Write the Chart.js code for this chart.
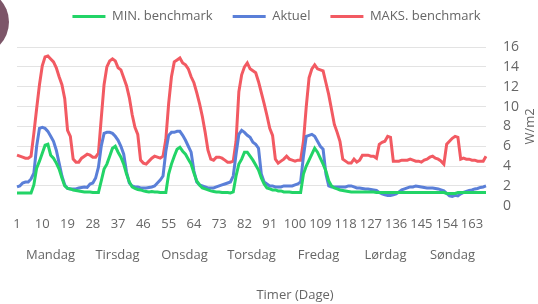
<!DOCTYPE html>
<html>
<head>
<meta charset="utf-8">
<script src="https://cdn.jsdelivr.net/npm/chart.js@4.4.1/dist/chart.umd.min.js"></script>
<style>
  html, body { margin: 0; padding: 0; background: #ffffff; overflow: hidden; }
  #wrap { position: relative; width: 538px; height: 304px; }
  #c { position: absolute; left: 0; top: 0; }
  #avatar { position: absolute; left: -57px; top: -11px; width: 66px; height: 66px; border-radius: 50%; background: #7c5568; }
</style>
</head>
<body>
<div id="wrap">
  <canvas id="c" width="538" height="304"></canvas>
  <div id="avatar"></div>
</div>
<script>
// ---- data ----
const hourLabels = [];
for (let h = 1; h <= 168; h++) hourLabels.push(String(h));
const dayLabels = ['Mandag', 'Tirsdag', 'Onsdag', 'Torsdag', 'Fredag', 'Lørdag', 'Søndag'];
const seriesNames = ['MIN. benchmark', 'Aktuel', 'MAKS. benchmark'];
const xTitle = 'Timer (Dage)';
const yTitle = 'W/m2';
const yMin = 0, yMax = 16, yStep = 2;

const minBenchmark = [
  1.3,1.3,1.3,1.3,1.3,1.3,2.1,3.8,4.5,5.3,6.1,6.2,5.1,4.8,4.3,3.7,2.8,2.0,1.75,1.7,1.6,1.55,1.5,1.45,
  1.4,1.4,1.4,1.35,1.35,1.35,2.5,3.7,4.2,5.0,5.8,6.0,5.4,4.9,4.2,3.2,2.4,1.9,1.75,1.65,1.6,1.5,1.45,1.4,
  1.45,1.4,1.4,1.35,1.35,1.35,3.2,4.2,5.0,5.7,5.9,5.5,5.2,4.7,4.2,3.3,2.5,2.1,1.8,1.7,1.6,1.5,1.45,1.4,
  1.4,1.35,1.35,1.35,1.3,1.4,3.0,4.2,4.7,5.4,5.4,5.0,4.6,4.1,3.6,2.8,2.2,1.8,1.7,1.6,1.6,1.5,1.5,1.4,
  1.4,1.4,1.35,1.35,1.35,1.35,3.2,4.0,4.6,5.2,5.8,5.4,4.8,4.2,3.5,2.5,2.0,1.8,1.7,1.6,1.55,1.5,1.45,1.4,
  1.4,1.4,1.4,1.4,1.4,1.4,1.4,1.4,1.35,1.35,1.35,1.35,1.35,1.35,1.35,1.35,1.35,1.35,1.35,1.35,1.35,1.35,1.35,1.35,
  1.33,1.33,1.33,1.33,1.33,1.33,1.33,1.33,1.33,1.25,1.25,1.25,1.25,1.33,1.33,1.33,1.33,1.33,1.33,1.33,1.33,1.33,1.33,1.33
];
const aktuel = [
  1.9,2.0,2.3,2.4,2.4,2.7,3.3,6.0,7.8,7.9,7.8,7.5,7.0,6.5,5.6,4.3,3.0,2.1,1.75,1.7,1.7,1.7,1.8,1.85,
  1.9,1.85,2.2,2.3,2.8,3.9,6.0,7.3,7.4,7.4,7.3,7.0,6.6,6.0,5.2,3.4,2.3,2.0,1.9,1.9,1.8,1.8,1.8,1.85,
  1.9,2.0,2.3,2.6,3.0,5.5,7.1,7.4,7.4,7.5,7.5,7.1,6.6,6.0,5.4,3.5,2.4,2.1,2.0,1.9,1.8,1.8,1.8,1.9,
  2.0,2.1,2.2,2.3,2.4,3.0,5.2,7.2,7.6,7.4,7.1,6.9,6.4,6.2,5.8,3.2,2.4,2.2,2.0,2.0,1.9,1.9,1.9,2.0,
  2.0,2.0,2.0,2.1,2.2,2.4,5.0,7.0,7.1,7.2,7.0,6.5,6.0,5.7,3.2,2.0,1.9,1.9,1.9,1.9,1.9,1.9,2.0,2.0,
  1.9,1.8,1.8,1.75,1.7,1.7,1.65,1.6,1.55,1.35,1.2,1.1,1.05,1.05,1.1,1.2,1.4,1.6,1.7,1.8,1.9,1.9,2.0,1.95,
  1.9,1.85,1.8,1.8,1.8,1.75,1.7,1.6,1.5,1.25,1.0,0.95,1.05,1.0,1.2,1.35,1.45,1.55,1.6,1.7,1.75,1.85,1.9,2.0
];
const maksBenchmark = [
  5.1,5.0,4.9,4.8,4.8,5.0,7.3,9.8,12.2,14.1,15.0,15.1,14.8,14.5,13.9,13.0,12.2,10.8,7.6,7.0,4.7,4.4,4.4,4.8,
  5.0,5.2,5.1,4.9,4.9,5.3,8.8,12.2,14.0,14.6,14.8,14.6,13.9,13.7,12.9,12.1,10.9,9.2,7.9,7.2,4.6,4.3,4.2,4.5,
  4.8,5.0,4.9,4.8,5.0,6.7,10.3,13.0,14.5,14.7,14.9,14.4,14.2,13.8,13.0,12.4,11.4,10.3,9.0,7.4,5.6,4.7,4.6,4.9,
  4.9,4.8,4.6,4.4,4.4,4.5,6.5,11.5,13.2,14.0,14.4,13.8,13.6,13.4,12.5,11.4,10.3,9.1,7.8,7.1,4.7,4.3,4.5,4.7,
  5.0,4.7,4.6,4.5,4.6,4.6,6.5,10.0,12.9,13.8,14.2,13.8,13.7,13.6,12.4,11.2,9.7,8.2,7.4,6.5,4.7,4.5,4.3,4.3,
  4.7,4.4,4.6,5.1,5.1,5.1,5.0,5.0,4.8,6.2,6.4,6.5,7.0,6.9,4.5,4.5,4.5,4.6,4.6,4.6,4.7,4.6,4.5,4.5,
  4.4,4.6,4.7,4.9,5.0,4.8,4.7,4.5,4.2,6.2,6.5,6.8,7.0,6.9,4.7,4.8,4.7,4.7,4.6,4.6,4.5,4.5,4.5,5.0
];

const colors = ['#22d467', '#5a7fd8', '#f25a62'];
const textColor = '#666666';
const gridColor = '#e3e3e3';
const FONT = "'Open Sans', 'Noto Sans', sans-serif";

Chart.defaults.font.family = FONT;
Chart.defaults.color = textColor;

const legendSpacing = {
  id: 'legendSpacing',
  afterInit(chart) {
    const origFit = chart.legend.fit;
    chart.legend.fit = function () { origFit.call(this); this.height += 14; };
  }
};

// axis titles drawn as text next to the axes
const axisTitles = {
  id: 'axisTitles',
  afterDraw(chart) {
    const ctx = chart.ctx;
    const area = chart.chartArea;
    ctx.save();
    ctx.font = "13px " + FONT;
    ctx.fillStyle = textColor;
    ctx.textAlign = 'center';
    ctx.textBaseline = 'middle';
    ctx.fillText(xTitle, 295, 295);
    ctx.translate(530, (area.top + area.bottom) / 2);
    ctx.rotate(-Math.PI / 2);
    ctx.fillText(yTitle, 0, 0);
    ctx.restore();
  }
};

const seriesData = [minBenchmark, aktuel, maksBenchmark];

new Chart(document.getElementById('c'), {
  type: 'line',
  data: {
    labels: hourLabels,
    datasets: seriesNames.map((name, i) => ({
      label: name,
      data: seriesData[i],
      borderColor: colors[i],
      backgroundColor: colors[i],
      borderWidth: 3,
      pointRadius: 0,
      pointHoverRadius: 0,
      tension: 0,
      fill: false
    }))
  },
  options: {
    responsive: false,
    animation: false,
    devicePixelRatio: 1,
    layout: { padding: { left: 17, right: 2, top: -10, bottom: 37 } },
    plugins: {
      legend: {
        position: 'top',
        labels: {
          usePointStyle: true,
          pointStyle: 'line',
          pointStyleWidth: 33,
          padding: 20,
          color: textColor,
          font: { size: 13, family: FONT }
        }
      },
      tooltip: { enabled: false }
    },
    scales: {
      x: {
        type: 'category',
        position: 'bottom',
        offset: false,
        grid: { display: false, drawTicks: false },
        border: { display: false },
        ticks: {
          autoSkip: false,
          maxRotation: 0,
          minRotation: 0,
          padding: 11,
          color: textColor,
          font: { size: 13, family: FONT },
          callback: function (val, idx) { return idx % 9 === 0 ? hourLabels[idx] : ''; }
        }
      },
      xDays: {
        type: 'category',
        axis: 'x',
        position: 'bottom',
        labels: dayLabels,
        offset: true,
        grid: { display: false, drawTicks: false },
        border: { display: false },
        ticks: {
          padding: 4,
          autoSkip: false,
          maxRotation: 0,
          color: textColor,
          font: { size: 13, family: FONT }
        }
      },
      y: {
        position: 'right',
        min: yMin,
        max: yMax,
        grid: {
          drawTicks: false,
          color: (ctx) => (ctx.tick && ctx.tick.value === 0 ? 'rgba(0,0,0,0)' : gridColor),
          lineWidth: 1
        },
        border: { display: false },
        ticks: {
          stepSize: yStep,
          autoSkip: false,
          padding: 17,
          color: textColor,
          font: { size: 14, family: FONT }
        }
      }
    }
  },
  plugins: [legendSpacing, axisTitles]
});
</script>
</body>
</html>
